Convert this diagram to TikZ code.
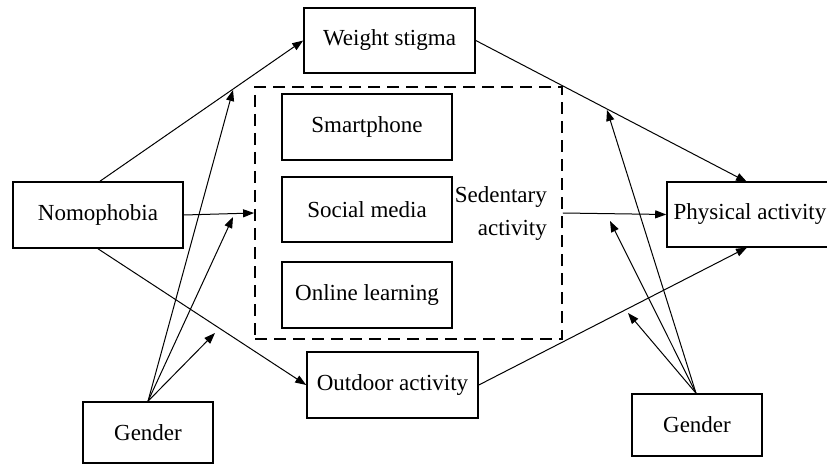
\documentclass[tikz,border=0pt]{standalone}
\usepackage{fontspec}
\setmainfont{Liberation Serif}
\newfontfamily\tnr{Liberation Serif}
\usetikzlibrary{arrows.meta}
\begin{document}
\begin{tikzpicture}[x=1pt,y=-1pt,
  box/.style={draw, line width=1.6pt, rectangle, inner sep=0pt, align=center,
    font=\tnr\fontsize{23}{26}\selectfont},
  conn/.style={line width=1pt, -{Triangle[length=11pt,width=8pt]}},
  dbox/.style={draw, line width=1.8pt, dash pattern=on 12pt off 7pt, rectangle, inner sep=0pt}]
\useasboundingbox (0,0) rectangle (827,465);
\clip (0,0) rectangle (827,465);
\node[box, minimum width=171pt, minimum height=65pt] (ws) at (389.5,40.5) {Weight stigma};
\node[dbox, minimum width=307pt, minimum height=252pt] (sed) at (408.5,213) {};
\node[box, minimum width=170pt, minimum height=66pt] (sp) at (367,127) {Smartphone};
\node[box, minimum width=170pt, minimum height=65pt] (sm) at (367,209.5) {Social media};
\node[box, minimum width=170pt, minimum height=66pt] (ol) at (367,295) {Online learning};
\node[align=right, inner sep=0pt, anchor=east, font=\tnr\fontsize{23}{33}\selectfont] (sedt) at (547,214) {Sedentary\\activity};
\node[box, minimum width=170pt, minimum height=66pt] (nomo) at (98,215) {Nomophobia};
\node[box, minimum width=166pt, minimum height=65pt] (pa) at (750,214.5) {Physical activity};
\node[box, minimum width=171pt, minimum height=66pt] (oa) at (392.5,385) {Outdoor activity};
\node[box, minimum width=130pt, minimum height=61pt] (g1) at (148,432.5) {Gender};
\node[box, minimum width=130pt, minimum height=62pt] (g2) at (697,425) {Gender};

\coordinate (pan) at (747,182);
\coordinate (pas) at (747,247.5);

\draw[conn] ([xshift=2pt]nomo.north) -- (ws.west);
\draw[conn] (nomo.east) -- (sed.west);
\draw[conn] (nomo.south) -- (oa.west);
\draw[conn] (ws.east) -- (pan);
\draw[conn] (sed.east) -- (pa.west);
\draw[conn] (oa.east) -- (pas);

\coordinate (l1) at (233,90);
\coordinate (l2) at (233,217);
\coordinate (l3) at (215,333);
\coordinate (r1) at (607,110);
\coordinate (r2) at (610,221);
\coordinate (r3) at (628,313);
\draw[conn] (g1.north) -- (l1);
\draw[conn] (g1.north) -- (l2);
\draw[conn] (g1.north) -- (l3);
\draw[conn] ([xshift=-1pt]g2.north) -- (r1);
\draw[conn] ([xshift=-1pt]g2.north) -- (r2);
\draw[conn] ([xshift=-1pt]g2.north) -- (r3);
\end{tikzpicture}
\end{document}
